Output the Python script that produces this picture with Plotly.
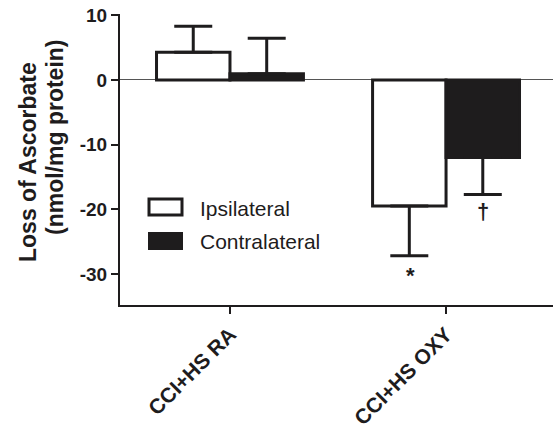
import plotly.graph_objects as go

categories = ["CCI+HS RA", "CCI+HS OXY"]
ipsi = [4.3, -19.5]
ipsi_err = [4.0, 7.7]
contra = [0.95, -12.0]
contra_err = [5.5, 5.7]
y_ticks = [10, 0, -10, -20, -30]
series_names = ["Ipsilateral", "Contralateral"]
sig_marks = ["*", "†"]

FONT = "Liberation Sans, Arial, Helvetica, sans-serif"
INK = "#1e1c1d"

def up(v, e):
    return [ee if vv >= 0 else 0 for vv, ee in zip(v, e)]

def dn(v, e):
    return [ee if vv < 0 else 0 for vv, ee in zip(v, e)]

fig = go.Figure()
fig.add_bar(
    x=categories, y=ipsi, name=series_names[0],
    marker=dict(color="white", line=dict(color=INK, width=3)),
    error_y=dict(type="data", symmetric=False, array=up(ipsi, ipsi_err),
                 arrayminus=dn(ipsi, ipsi_err), color=INK, thickness=3, width=19),
)
fig.add_bar(
    x=categories, y=contra, name=series_names[1],
    marker=dict(color=INK, line=dict(color=INK, width=3)),
    error_y=dict(type="data", symmetric=False, array=up(contra, contra_err),
                 arrayminus=dn(contra, contra_err), color=INK, thickness=3, width=19),
)

# plot area in pixels
L, T, W, H = 120, 14, 433, 291
def px(xp):
    return (xp - L) / W
def py(yp):
    return (T + H - yp) / H

shapes = [
    dict(type="rect", xref="paper", yref="paper", x0=px(149), x1=px(182), y0=py(199), y1=py(215),
         line=dict(color=INK, width=3), fillcolor="white"),
    dict(type="rect", xref="paper", yref="paper", x0=px(149), x1=px(182), y0=py(233), y1=py(249),
         line=dict(color=INK, width=2), fillcolor=INK),
]

annotations = [
    dict(text=series_names[0], xref="paper", yref="paper", x=px(198), y=py(208), xanchor="left",
         yanchor="middle", showarrow=False, font=dict(family=FONT, size=21, color=INK)),
    dict(text=series_names[1], xref="paper", yref="paper", x=px(198), y=py(241), xanchor="left",
         yanchor="middle", showarrow=False, font=dict(family=FONT, size=21, color=INK)),
    dict(text="Loss of Ascorbate", xref="paper", yref="paper", x=px(28), y=py(162), textangle=-90,
         xanchor="center", yanchor="middle", showarrow=False,
         font=dict(family=FONT, size=23, color=INK, weight="bold")),
    dict(text="(nmol/mg protein)", xref="paper", yref="paper", x=px(55), y=py(138), textangle=-90,
         xanchor="center", yanchor="middle", showarrow=False,
         font=dict(family=FONT, size=23, color=INK, weight="bold")),
    dict(text=sig_marks[0], x=categories[1], y=ipsi[1] - ipsi_err[1], xshift=-36, yshift=-5,
         yanchor="top", showarrow=False, font=dict(family=FONT, size=22, color=INK, weight="bold")),
    dict(text=sig_marks[1], x=categories[1], y=contra[1] - contra_err[1], xshift=37, yshift=-3,
         yanchor="top", showarrow=False, font=dict(family=FONT, size=22, color=INK, weight="bold")),
]

fig.update_layout(
    template="none",
    width=553, height=430,
    margin=dict(l=L, r=553 - L - W, t=T, b=430 - T - H, pad=0, autoexpand=False),
    paper_bgcolor="white", plot_bgcolor="white",
    barmode="group", bargap=0.32, bargroupgap=0,
    showlegend=False,
    shapes=shapes, annotations=annotations,
    xaxis=dict(type="category", range=[-0.509, 1.495], showline=True, linewidth=2, linecolor=INK,
               ticks="outside", ticklen=7, tickwidth=2, tickcolor=INK, tickangle=-45,
               tickfont=dict(family=FONT, size=21, color=INK, weight="bold"), showgrid=False,
               zeroline=False, automargin=False),
    yaxis=dict(range=[-34.8, 10.2], tickvals=y_ticks, ticktext=[str(v) for v in y_ticks],
               showline=True, linewidth=2, linecolor=INK, ticks="outside", ticklen=7, tickwidth=2,
               tickcolor=INK, tickfont=dict(family=FONT, size=19, color=INK, weight="bold"),
               showgrid=False, zeroline=True, zerolinecolor="#555", zerolinewidth=1,
               automargin=False),
)

fig.write_html(
    "out.html",
    config={"displayModeBar": False},
    post_script="document.body.style.margin='0';document.body.style.padding='0';"
                "document.body.style.overflow='hidden';",
)
